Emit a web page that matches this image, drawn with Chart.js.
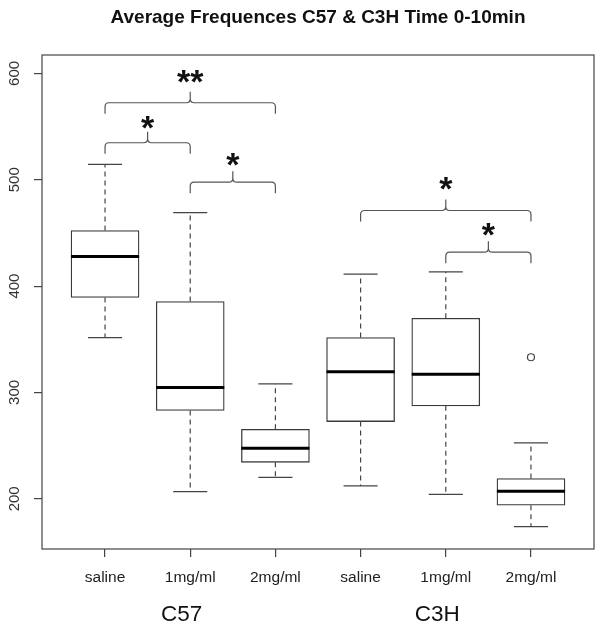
<!DOCTYPE html>
<html lang="en">
<head>
  <meta charset="UTF-8">
  <script src="https://cdn.jsdelivr.net/npm/chart.js@4.4.0/dist/chart.umd.min.js"></script>
  <title>Average Frequences C57 & C3H Time 0-10min</title>
  <style>
    body { margin: 0; background: #fff; }
  </style>
</head>
<body>
  <canvas id="myChart" width="600" height="625"></canvas>
  <script>
    const labels = ['saline', '1mg/ml', '2mg/ml', 'saline', '1mg/ml', '2mg/ml']
    const groups = ['C57', 'C3H']
    const whiskerLow = [351.6, 206.8, 220.2, 212.1, 204.2, 173.9]
    const q1 = [389.3, 283.0, 234.3, 272.6, 287.4, 193.9]
    const medians = [427.8, 304.6, 247.5, 319.4, 317.2, 207.1]
    const q3 = [452.3, 385.5, 265.4, 351.6, 369.8, 219.0]
    const whiskerHigh = [514.4, 469.0, 308.0, 411.2, 413.4, 252.6]
    const outliers = [{ x: 6, y: 333.1 }]
    const yTicks = [200, 300, 400, 500, 600]
    // significance brackets (group index 1..6), level of the bar and of the stars
    const bracketFrom = [1, 1, 2, 4, 5]
    const bracketTo = [3, 2, 3, 6, 6]
    const bracketLevel = [572.4, 534.8, 497.7, 471.1, 431.9]
    const starLevel = [597.2, 553.6, 518.8, 496.8, 453.0]
    const bracketMark = ['**', '*', '*', '*', '*']

    const FONT = "'Liberation Sans', Arial, Helvetica, sans-serif"

    function line(ctx, x1, y1, x2, y2) {
      ctx.beginPath()
      ctx.moveTo(x1, y1)
      ctx.lineTo(x2, y2)
      ctx.stroke()
    }

    function drawBracket(ctx, x1, x2, py) {
      const drop = 11, r = 4, tip = 11
      const cx = (x1 + x2) / 2
      ctx.beginPath()
      ctx.moveTo(x1, py + drop)
      ctx.lineTo(x1, py + r)
      ctx.quadraticCurveTo(x1, py, x1 + r, py)
      ctx.lineTo(cx - r, py)
      ctx.quadraticCurveTo(cx, py, cx, py - r)
      ctx.lineTo(cx, py - tip)
      ctx.moveTo(cx, py - r)
      ctx.quadraticCurveTo(cx, py, cx + r, py)
      ctx.lineTo(x2 - r, py)
      ctx.quadraticCurveTo(x2, py, x2, py + r)
      ctx.lineTo(x2, py + drop)
      ctx.stroke()
    }

    const boxParts = {
      id: 'boxParts',
      afterDatasetsDraw(chart) {
        const { ctx, scales: { x, y } } = chart
        ctx.save()
        ctx.lineCap = 'butt'
        labels.forEach((_, i) => {
          const px = x.getPixelForValue(i + 1)
          // whiskers
          ctx.strokeStyle = '#444'
          ctx.lineWidth = 1.2
          ctx.setLineDash([5, 4])
          line(ctx, px, y.getPixelForValue(q3[i]), px, y.getPixelForValue(whiskerHigh[i]))
          line(ctx, px, y.getPixelForValue(q1[i]), px, y.getPixelForValue(whiskerLow[i]))
          ctx.setLineDash([])
          const c1 = x.getPixelForValue(i + 0.8), c2 = x.getPixelForValue(i + 1.2)
          line(ctx, c1, y.getPixelForValue(whiskerHigh[i]), c2, y.getPixelForValue(whiskerHigh[i]))
          line(ctx, c1, y.getPixelForValue(whiskerLow[i]), c2, y.getPixelForValue(whiskerLow[i]))
          // median
          ctx.strokeStyle = '#000'
          ctx.lineWidth = 3
          line(ctx, x.getPixelForValue(i + 0.6), y.getPixelForValue(medians[i]),
            x.getPixelForValue(i + 1.4), y.getPixelForValue(medians[i]))
        })
        // brackets and stars
        ctx.strokeStyle = '#555'
        ctx.lineWidth = 1.2
        ctx.fillStyle = '#111'
        ctx.font = 'bold 34px ' + FONT
        ctx.textAlign = 'center'
        ctx.textBaseline = 'alphabetic'
        bracketLevel.forEach((lv, i) => {
          const x1 = x.getPixelForValue(bracketFrom[i])
          const x2 = x.getPixelForValue(bracketTo[i])
          drawBracket(ctx, x1, x2, y.getPixelForValue(lv))
          const m = ctx.measureText(bracketMark[i])
          const cy = y.getPixelForValue(starLevel[i])
          ctx.fillText(bracketMark[i], (x1 + x2) / 2,
            cy + (m.actualBoundingBoxAscent - m.actualBoundingBoxDescent) / 2)
        })
        ctx.restore()
      },
      afterDraw(chart) {
        const { ctx, chartArea: a, scales: { x, y } } = chart
        ctx.save()
        // frame
        ctx.strokeStyle = '#444'
        ctx.lineWidth = 1.2
        ctx.strokeRect(a.left, a.top, a.right - a.left, a.bottom - a.top)
        // rotated y labels
        ctx.fillStyle = '#333'
        ctx.font = '15px ' + FONT
        ctx.textAlign = 'center'
        ctx.textBaseline = 'alphabetic'
        yTicks.forEach(v => {
          ctx.save()
          ctx.translate(19, y.getPixelForValue(v))
          ctx.rotate(-Math.PI / 2)
          ctx.fillText(String(v), 0, 0)
          ctx.restore()
        })
        // title
        ctx.fillStyle = '#111'
        ctx.font = 'bold 19px ' + FONT
        ctx.fillText('Average Frequences C57 & C3H Time 0-10min', (a.left + a.right) / 2, 23)
        // strain labels
        ctx.font = '22.5px ' + FONT
        groups.forEach((g, i) => {
          ctx.fillText(g, x.getPixelForValue(1.9 + 3 * i), 621)
        })
        ctx.restore()
      }
    }

    const ctx = document.getElementById('myChart')
    const myChart = new Chart(ctx, {
      type: 'bar',
      data: {
        datasets: [
          {
            type: 'bar',
            data: labels.map((_, i) => ({ x: i + 1, y: [q1[i], q3[i]] })),
            backgroundColor: '#fff',
            borderColor: '#3a3a3a',
            borderWidth: 1.3,
            borderSkipped: false,
            barThickness: 68
          },
          {
            type: 'scatter',
            data: outliers,
            pointRadius: 3.5,
            pointBorderColor: '#444',
            pointBackgroundColor: '#fff',
            pointBorderWidth: 1.2
          }
        ]
      },
      plugins: [boxParts],
      options: {
        responsive: false,
        animation: false,
        layout: { padding: { left: 0, top: 55, right: 6, bottom: 0 } },
        plugins: {
          legend: { display: false },
          tooltip: { enabled: false }
        },
        scales: {
          x: {
            type: 'linear',
            offset: false,
            min: 0.26,
            max: 6.74,
            afterBuildTicks: s => { s.ticks = labels.map((_, i) => ({ value: i + 1 })) },
            afterFit: s => { s.height = 76 },
            ticks: {
              callback: v => labels[v - 1],
              autoSkip: false,
              maxRotation: 0,
              padding: 11,
              color: '#222',
              font: { size: 15.5, family: FONT }
            },
            grid: { offset: false, drawOnChartArea: false, tickLength: 8, color: '#444', lineWidth: 1.2 },
            border: { display: false }
          },
          y: {
            min: 152.8,
            max: 617.3,
            afterBuildTicks: s => { s.ticks = yTicks.map(v => ({ value: v })) },
            afterFit: s => { s.width = 42 },
            ticks: { display: false },
            grid: { drawOnChartArea: false, tickLength: 8, color: '#444', lineWidth: 1.2 },
            border: { display: false }
          }
        }
      }
    })
  </script>
</body>
</html>
